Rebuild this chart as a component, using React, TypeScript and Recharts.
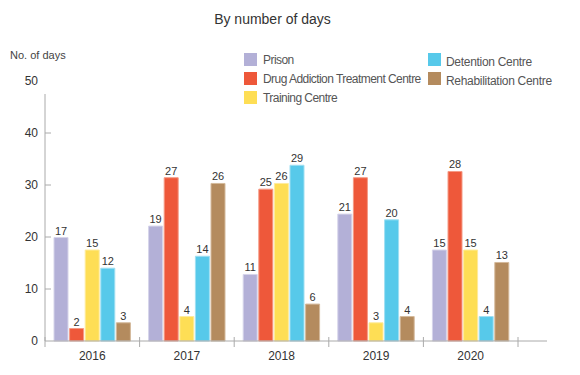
import { BarChart, Bar, XAxis, YAxis, LabelList } from "recharts";

const years = ["2016", "2017", "2018", "2019", "2020"];

// bar heights as drawn in the reference
const prisonBars = [19.9, 22.1, 12.8, 24.4, 17.5];
const drugBars = [2.4, 31.4, 29.2, 31.4, 32.6];
const trainingBars = [17.5, 4.7, 30.3, 3.5, 17.5];
const detentionBars = [14.0, 16.3, 33.8, 23.3, 4.7];
const rehabBars = [3.5, 30.3, 7.1, 4.7, 15.1];

// printed labels
const prisonDays = [17, 19, 11, 21, 15];
const drugDays = [2, 27, 25, 27, 28];
const trainingDays = [15, 4, 26, 3, 15];
const detentionDays = [12, 14, 29, 20, 4];
const rehabDays = [3, 26, 6, 4, 13];

const yTicks = [0, 10, 20, 30, 40, 50];

const series = [
  { key: "prison", name: "Prison", fill: "#b3b0d7", stroke: "#d6d4ea" },
  { key: "drug", name: "Drug Addiction Treatment Centre", fill: "#ee583a", stroke: "#f59a85" },
  { key: "training", name: "Training Centre", fill: "#fede55", stroke: "#feeb9c" },
  { key: "detention", name: "Detention Centre", fill: "#57c9ea", stroke: "#9fdff2" },
  { key: "rehab", name: "Rehabilitation Centre", fill: "#b48b5e", stroke: "#d4b99b" },
];

const data = years.map((year, i) => ({
  year,
  prison: prisonBars[i],
  drug: drugBars[i],
  training: trainingBars[i],
  detention: detentionBars[i],
  rehab: rehabBars[i],
  prisonLabel: prisonDays[i],
  drugLabel: drugDays[i],
  trainingLabel: trainingDays[i],
  detentionLabel: detentionDays[i],
  rehabLabel: rehabDays[i],
}));

const FONT = "'Liberation Sans', Arial, sans-serif";
const AXIS = "#aaaaaa";
const TEXT = "#333333";
const PLOT_H = 260;

function XTick(props: any) {
  const { x, y, payload, index } = props;
  const half = payload?.offset || 47.3;
  return (
    <g>
      <line x1={x - half} x2={x - half} y1={y - 4} y2={y + 6} stroke={AXIS} />
      {index === years.length - 1 && (
        <line x1={x + half} x2={x + half} y1={y - 4} y2={y + 6} stroke={AXIS} />
      )}
      <text x={x} y={y + 19} textAnchor="middle" fontSize={12} fill={TEXT} fontFamily={FONT}>
        {payload.value}
      </text>
    </g>
  );
}

function YTick(props: any) {
  const { x, y, payload } = props;
  const v = payload.value;
  return (
    <g>
      {v === 0 && <line x1={x} x2={x} y1={y} y2={y - PLOT_H * 0.95} stroke={AXIS} />}
      {v > 0 && v < 50 && <line x1={x} x2={x + 6} y1={y} y2={y} stroke={AXIS} />}
      <text x={x - 7} y={y + 4} textAnchor="end" fontSize={12} fill={TEXT} fontFamily={FONT}>
        {v}
      </text>
    </g>
  );
}

const legendCol1 = series.slice(0, 3);
const legendCol2 = series.slice(3);

export default function App() {
  return (
    <div style={{ position: "relative", width: 580, height: 375, fontFamily: FONT }}>
      <style>{`body{margin:0}`}</style>
      <div style={{ position: "absolute", left: 0, width: 545, top: 11, textAlign: "center", fontSize: 14, color: TEXT }}>
        By number of days
      </div>
      <div style={{ position: "absolute", left: 10, top: 49, fontSize: 11, color: "#444" }}>No. of days</div>
      {legendCol1.map((s, i) => (
        <div key={s.key} style={{ position: "absolute", left: 244, top: 53 + i * 19, display: "flex", alignItems: "center", height: 13 }}>
          <div style={{ width: 13, height: 13, background: s.fill }} />
          <span style={{ marginLeft: 6, fontSize: 12, color: "#555", letterSpacing: -0.55, whiteSpace: "nowrap" }}>{s.name}</span>
        </div>
      ))}
      {legendCol2.map((s, i) => (
        <div key={s.key} style={{ position: "absolute", left: 428, top: 53 + i * 19, display: "flex", alignItems: "center", height: 13 }}>
          <div style={{ width: 13, height: 13, background: s.fill }} />
          <span style={{ marginLeft: 5, fontSize: 12, color: "#555", letterSpacing: -0.3, position: "relative", top: 2, whiteSpace: "nowrap" }}>{s.name}</span>
        </div>
      ))}
      <BarChart
        width={580}
        height={375}
        data={data}
        margin={{ top: 81, right: 33, bottom: 4, left: 0 }}
        barSize={14}
        barGap={1.6}
      >
        <XAxis
          dataKey="year"
          height={30}
          padding={{ left: 0, right: 29 }}
          axisLine={{ stroke: AXIS }}
          tickLine={false}
          tickSize={0}
          tickMargin={0}
          tick={<XTick />}
          interval={0}
        />
        <YAxis
          width={45}
          domain={[0, 50]}
          ticks={yTicks}
          axisLine={false}
          tickLine={false}
          tickSize={0}
          tickMargin={0}
          tick={<YTick />}
          interval={0}
        />
        {series.map((s) => (
          <Bar key={s.key} dataKey={s.key} name={s.name} fill={s.fill} stroke={s.stroke} strokeWidth={1} isAnimationActive={false}>
            <LabelList dataKey={`${s.key}Label`} position="top" offset={3} fontSize={11} fill={TEXT} fontFamily={FONT} />
          </Bar>
        ))}
      </BarChart>
    </div>
  );
}
